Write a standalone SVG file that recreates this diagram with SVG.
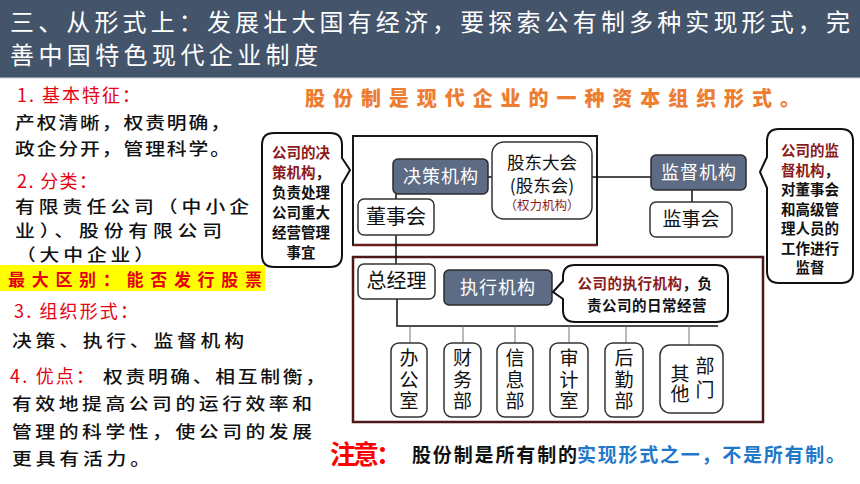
<svg xmlns="http://www.w3.org/2000/svg" width="860" height="484" viewBox="0 0 860 484">
<style>
text{font-family:"Noto Sans CJK SC","Noto Sans",sans-serif;}
.hd{fill:#fff;font-size:24px;}
.red{fill:#e60012;font-size:18px;}
.blk{fill:#111;font-size:16.5px;font-weight:500;}
.slate{fill:#5d6c84;stroke:#2b2b2b;stroke-width:1.5;}
.st{fill:#fff;font-size:18px;text-anchor:middle;letter-spacing:1px;}
.wb{fill:#fff;stroke:#333;stroke-width:1.5;}
.wt{fill:#111;font-size:19px;text-anchor:middle;}
.vt{fill:#111;font-size:19px;text-anchor:middle;writing-mode:vertical-rl;letter-spacing:2.5px;}
.ct{fill:#111;font-size:14.5px;text-anchor:middle;font-weight:bold;}
.dr{fill:#8b1a1a;}
.bub{fill:#fff;stroke:#111;stroke-width:2;stroke-linejoin:round;}
.ln{stroke:#111;stroke-width:1.5;fill:none;}
.tk{stroke:#777;stroke-width:1;}
</style>
<rect x="0" y="0" width="860" height="484" fill="#fff"/>
<g id="header">
<rect x="0" y="0" width="860" height="78" fill="#44546a"/>
<line x1="0" y1="78" x2="860" y2="78" stroke="#d0d4da" stroke-width="1"/>
<text class="hd" x="10" y="31" textLength="840" lengthAdjust="spacing">三、从形式上：发展壮大国有经济，要探索公有制多种实现形式，完</text>
<text class="hd" x="10" y="64" textLength="308" lengthAdjust="spacing">善中国特色现代企业制度</text>
</g>
<g id="left-text">
<text class="red" x="17" y="102" textLength="123" lengthAdjust="spacing">1. 基本特征：</text>
<text class="red" x="17" y="188" textLength="80" lengthAdjust="spacing">2. 分类：</text>
<rect x="0" y="265" width="265" height="26" fill="#ffff00"/>
<text x="8" y="286" fill="#e60012" font-size="17" font-weight="bold" textLength="254" lengthAdjust="spacing">最大区别：能否发行股票</text>
<text class="red" x="14" y="318" textLength="124" lengthAdjust="spacing">3. 组织形式：</text>
<text class="red" x="10" y="383" textLength="84" lengthAdjust="spacing">4. 优点：</text>
<g transform="scale(1.2 1)">
<text class="blk" x="12.5" y="129" textLength="179.2" lengthAdjust="spacing">产权清晰，权责明确，</text>
<text class="blk" x="12.5" y="155" textLength="179.2" lengthAdjust="spacing">政企分开，管理科学。</text>
<text class="blk" x="12.5" y="213" textLength="195" lengthAdjust="spacing">有限责任公司（中小企</text>
<text class="blk" x="12.5" y="237" textLength="172.5" lengthAdjust="spacing">业）、股份有限公司</text>
<text class="blk" x="13.3" y="261.5" textLength="115" lengthAdjust="spacing">（大中企业）</text>
<text class="blk" x="10" y="347" textLength="193.3" lengthAdjust="spacing">决策、执行、监督机构</text>
<text class="blk" x="85.8" y="383" textLength="185" lengthAdjust="spacing">权责明确、相互制衡，</text>
<text class="blk" x="10" y="410" textLength="250" lengthAdjust="spacing">有效地提高公司的运行效率和</text>
<text class="blk" x="10" y="438" textLength="250" lengthAdjust="spacing">管理的科学性，使公司的发展</text>
<text class="blk" x="10" y="465" textLength="115" lengthAdjust="spacing">更具有活力。</text>
</g>
</g>
<g id="title">
<text x="305" y="106" fill="#ed7d31" font-size="20" font-weight="900" textLength="495" lengthAdjust="spacing">股份制是现代企业的一种资本组织形式。</text>
</g>
<g id="frames">
<rect x="353" y="136" width="244" height="109" fill="none" stroke="#1a1a1a" stroke-width="2"/>
<line x1="353" y1="245" x2="597" y2="245" stroke="#6b1e1e" stroke-width="2.5"/>
<rect x="353" y="257" width="410" height="165" fill="none" stroke="#4d1818" stroke-width="2.5"/>
</g>
<g id="connectors">
<line class="ln" x1="488" y1="177" x2="492" y2="177"/>
<line class="ln" x1="592" y1="177" x2="651" y2="177"/>
<line class="ln" x1="692" y1="190" x2="692" y2="202"/>
<line class="ln" x1="396" y1="194" x2="396" y2="199"/>
<line class="ln" x1="396" y1="235" x2="396" y2="264"/>
<polyline class="ln" points="397,299 397,326 718,326"/>
<line class="tk" x1="410" y1="326" x2="410" y2="343"/>
<line class="tk" x1="463" y1="326" x2="463" y2="343"/>
<line class="tk" x1="515" y1="326" x2="515" y2="343"/>
<line class="tk" x1="569" y1="326" x2="569" y2="343"/>
<line class="tk" x1="626" y1="326" x2="626" y2="343"/>
<line class="tk" x1="689" y1="326" x2="689" y2="345"/>
</g>
<g id="callout-decision">
<path class="bub" d="M274,133 H330 Q342,133 342,145 V158 L350,170 L342,184 V255 Q342,267 330,267 H274 Q262,267 262,255 V145 Q262,133 274,133 Z"/>
<text class="ct"><tspan x="301" y="158" class="dr">公司的决</tspan><tspan x="301" y="178"><tspan class="dr">策机构</tspan>，</tspan><tspan x="301" y="198">负责处理</tspan><tspan x="301" y="218">公司重大</tspan><tspan x="301" y="238">经营管理</tspan><tspan x="301" y="258">事宜</tspan></text>
</g>
<g id="node-juece">
<rect class="slate" x="393" y="159" width="95" height="35" rx="5"/>
<text class="st" x="441" y="183">决策机构</text>
</g>
<g id="node-gudong">
<rect class="wb" x="492" y="142" width="100" height="77" rx="12"/>
<text class="wt" style="font-size:17.5px"><tspan x="542" y="169">股东大会</tspan><tspan x="542" y="192">(股东会)</tspan><tspan x="542" y="210" style="font-size:12.5px;fill:#8b1a1a">（权力机构）</tspan></text>
</g>
<g id="node-dongshi">
<rect class="wb" x="358" y="199" width="76" height="36" rx="6"/>
<text class="wt" x="396" y="224" style="font-size:20px">董事会</text>
</g>
<g id="node-jiandu">
<rect class="slate" x="651" y="155" width="95" height="35" rx="5"/>
<text class="st" x="699" y="179">监督机构</text>
</g>
<g id="node-jianshi">
<rect class="wb" x="650" y="202" width="82" height="35" rx="6"/>
<text class="wt" x="691" y="226">监事会</text>
</g>
<g id="callout-supervise">
<path class="bub" d="M779,129 H841 Q853,129 853,141 V271 Q853,283 841,283 H779 Q767,283 767,271 V188 L760,172 L767,157 V141 Q767,129 779,129 Z"/>
<text class="ct"><tspan x="810" y="156" class="dr">公司的监</tspan><tspan x="810" y="175.5"><tspan class="dr">督机构</tspan>，</tspan><tspan x="810" y="195">对董事会</tspan><tspan x="810" y="214.5">和高级管</tspan><tspan x="810" y="234">理人员的</tspan><tspan x="810" y="253.5">工作进行</tspan><tspan x="810" y="273">监督</tspan></text>
</g>
<g id="node-zongjingli">
<rect class="wb" x="358" y="264" width="77" height="35" rx="6"/>
<text class="wt" x="396.5" y="288" style="font-size:20px">总经理</text>
</g>
<g id="node-zhixing">
<rect class="slate" x="444" y="270" width="108" height="35" rx="5"/>
<text class="st" x="498" y="294">执行机构</text>
</g>
<g id="callout-exec">
<path class="bub" d="M575,265 H716 Q728,265 728,277 V310 Q728,322 716,322 H575 Q563,322 563,310 V299 L553,292 L563,281 V277 Q563,265 575,265 Z"/>
<text class="ct" letter-spacing="0.5"><tspan x="645" y="289"><tspan class="dr">公司的执行机构</tspan>，负</tspan><tspan x="647" y="311">责公司的日常经营</tspan></text>
</g>
<g id="node-bangongshi">
<rect class="wb" x="391" y="343" width="36" height="74" rx="8"/>
<text class="vt" x="409" y="381">办公室</text>
</g>
<g id="node-caiwu">
<rect class="wb" x="444" y="343" width="37" height="74" rx="8"/>
<text class="vt" x="462.5" y="381">财务部</text>
</g>
<g id="node-xinxi">
<rect class="wb" x="497" y="343" width="36" height="74" rx="8"/>
<text class="vt" x="515" y="381">信息部</text>
</g>
<g id="node-shenji">
<rect class="wb" x="550" y="343" width="38" height="74" rx="8"/>
<text class="vt" x="569" y="381">审计室</text>
</g>
<g id="node-houqin">
<rect class="wb" x="605" y="343" width="38" height="74" rx="8"/>
<text class="vt" x="624" y="381">后勤部</text>
</g>
<g id="node-qita">
<rect class="wb" x="660" y="345" width="63" height="68" rx="10"/>
<text class="vt" x="705" y="380" style="letter-spacing:5px">部门</text>
<text class="vt" x="680" y="384" style="letter-spacing:1px">其他</text>
</g>
<g id="note">
<text x="330" y="464" fill="#ff0000" font-size="26" font-weight="bold" textLength="72" lengthAdjust="spacing">注意：</text>
<text x="412" y="462" fill="#111" font-size="19" font-weight="bold" textLength="165" lengthAdjust="spacing">股份制是所有制的</text>
<text x="577" y="462" fill="#1f78c8" font-size="19" font-weight="bold" textLength="268" lengthAdjust="spacing">实现形式之一，不是所有制。</text>
</g>
</svg>
